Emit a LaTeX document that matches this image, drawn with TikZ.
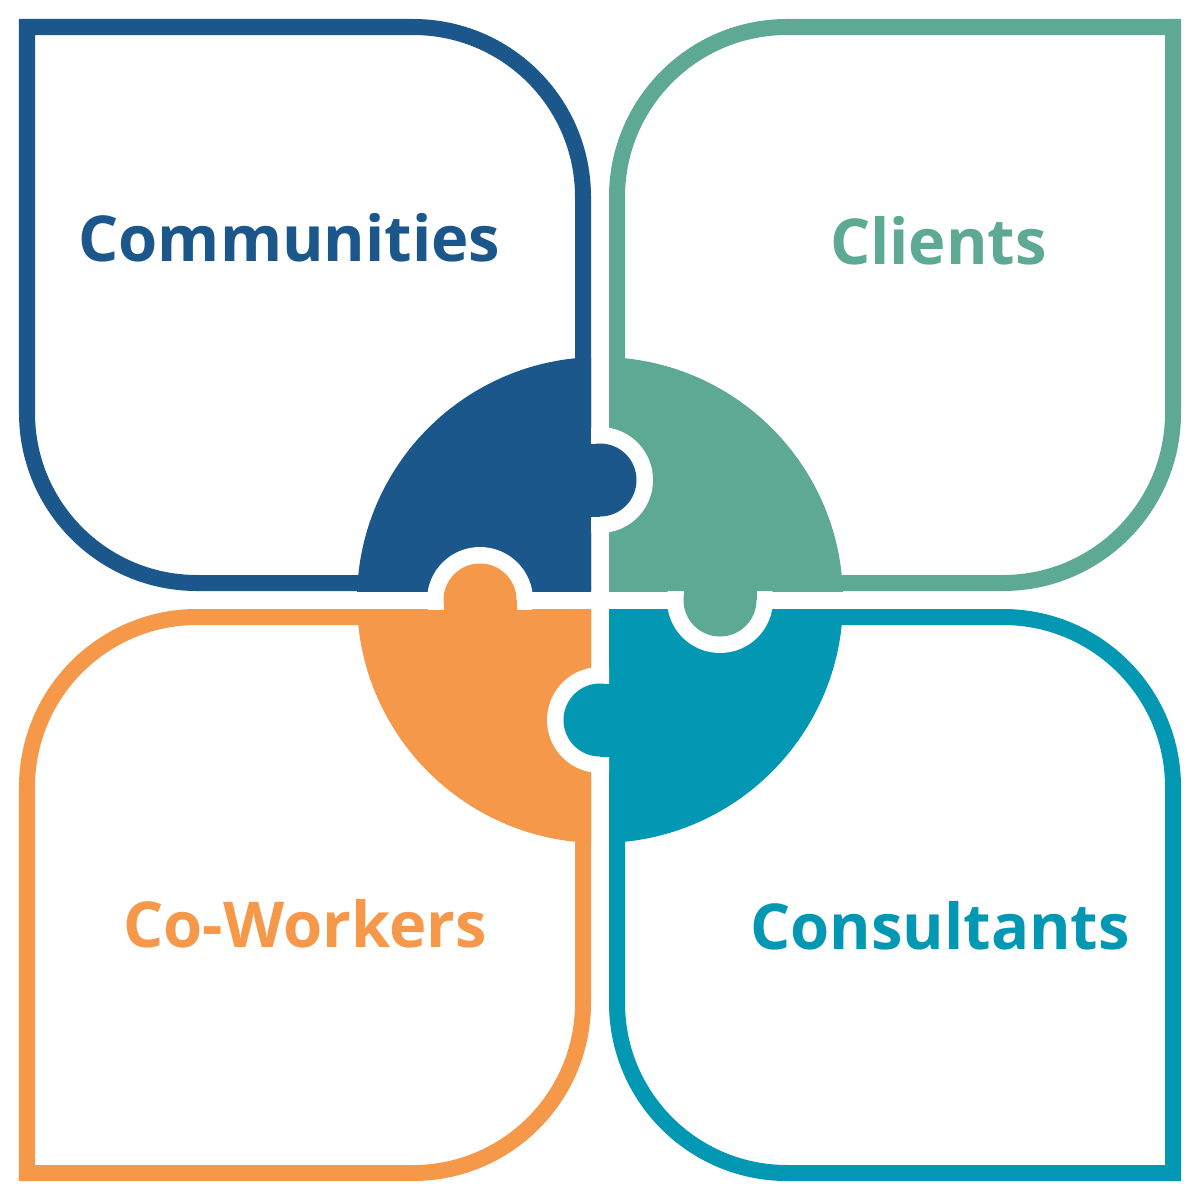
\documentclass[tikz,border=0pt]{standalone}
\usepackage{fontspec}
\setmainfont{Open Sans}
\definecolor{cblue}{HTML}{1B578A}
\definecolor{cgreen}{HTML}{5EA993}
\definecolor{corange}{HTML}{F6984A}
\definecolor{cteal}{HTML}{0298B4}
\tikzset{
  frame/.style={line width=0.16cm, line join=miter},
  lbl/.style={anchor=base, inner sep=0pt, font=\fontsize{18pt}{22pt}\selectfont\bfseries}
}
\begin{document}
\begin{tikzpicture}[x=0.01cm, y=-0.01cm]
\useasboundingbox (0,0) rectangle (1200,1200);
% frames
\draw[frame, cblue] (27,27) -- (413,27) arc[start angle=-90, end angle=0, radius=170]
  -- (583,583) -- (197,583) arc[start angle=90, end angle=180, radius=170] -- cycle;
\draw[frame, cgreen] (617,583) -- (617,197) arc[start angle=180, end angle=270, radius=170]
  -- (1173,27) -- (1173,413) arc[start angle=0, end angle=90, radius=170] -- cycle;
\draw[frame, corange] (27,1173) -- (27,787) arc[start angle=180, end angle=270, radius=170]
  -- (583,617) -- (583,1003) arc[start angle=0, end angle=90, radius=170] -- cycle;
\draw[frame, cteal] (617,617) -- (1003,617) arc[start angle=-90, end angle=0, radius=170]
  -- (1173,1173) -- (787,1173) arc[start angle=90, end angle=180, radius=170] -- cycle;
% quarter pieces
\begin{scope}\clip (0,0) rectangle (591,591); \fill[cblue] (600,600) circle (243);\end{scope}
\begin{scope}\clip (609,0) rectangle (1200,591); \fill[cgreen] (600,600) circle (243);\end{scope}
\begin{scope}\clip (0,609) rectangle (591,1200); \fill[corange] (600,600) circle (243);\end{scope}
\begin{scope}\clip (609,609) rectangle (1200,1200); \fill[cteal] (600,600) circle (243);\end{scope}
% blanks (white gaps around tabs)
\begin{scope}\clip (591,0) rectangle (1200,1200); \fill[white] (600,480) circle (53);\end{scope}
\begin{scope}\clip (0,591) rectangle (1200,1200); \fill[white] (720,600) circle (53);\end{scope}
\begin{scope}\clip (0,0) rectangle (609,1200); \fill[white] (600,720) circle (53);\end{scope}
\begin{scope}\clip (0,0) rectangle (1200,609); \fill[white] (480,600) circle (53);\end{scope}
% tabs
\fill[cblue] (585,443.5) rectangle (600,516.5);
\fill[cblue] (600,480) circle (36.5);
\fill[cgreen] (683.5,585) rectangle (756.5,600);
\fill[cgreen] (720,600) circle (36.5);
\fill[cteal] (600,683.5) rectangle (615,756.5);
\fill[cteal] (600,720) circle (36.5);
\fill[corange] (443.5,600) rectangle (516.5,615);
\fill[corange] (480,600) circle (36.5);
% labels
\node[lbl, text=cblue] (communities) at (289.5,261) {Communities};
\node[lbl, text=cgreen] (clients) at (938.5,264) {Clients};
\node[lbl, text=corange] (coworkers) at (305,947) {Co-Workers};
\node[lbl, text=cteal] (consultants) at (940,949) {Consultants};
\end{tikzpicture}
\end{document}
